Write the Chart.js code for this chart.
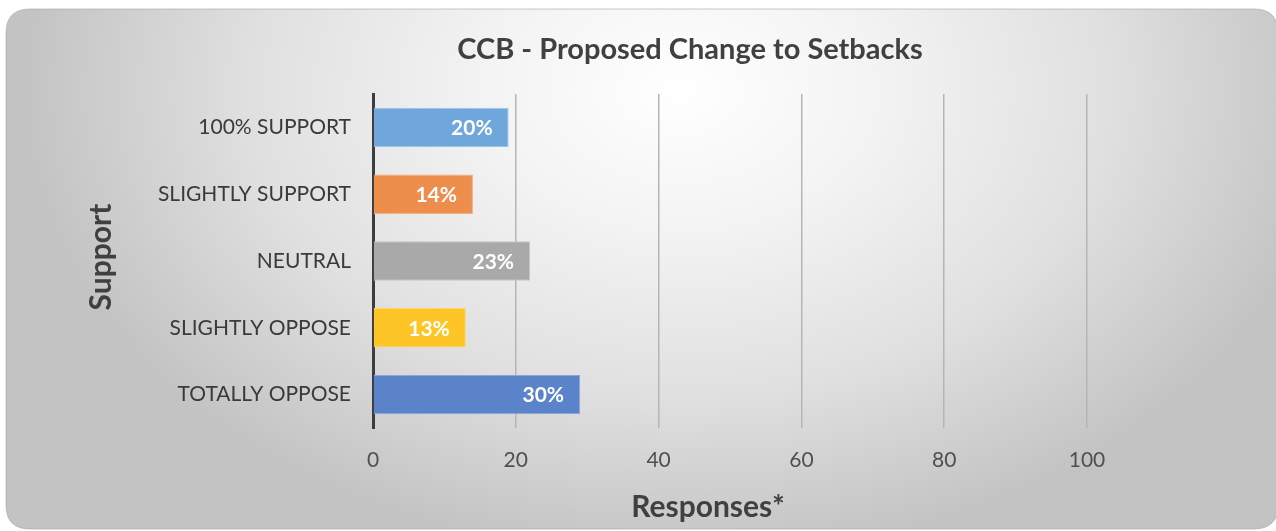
<!DOCTYPE html>
<html><head><meta charset="utf-8">
<script src="https://cdn.jsdelivr.net/npm/chart.js@4.4.1/dist/chart.umd.min.js"></script>
<style>html,body{margin:0;padding:0;background:#fff;overflow:hidden}#wrap{width:1276px;height:531px}</style>
</head><body><div id="wrap"><canvas id="c" width="1276" height="531"></canvas></div>
<script>
const categories = ['100% SUPPORT', 'SLIGHTLY SUPPORT', 'NEUTRAL', 'SLIGHTLY OPPOSE', 'TOTALLY OPPOSE'];
const responses = [19, 14, 22, 13, 29];
const percentLabels = ['20%', '14%', '23%', '13%', '30%'];
const xTickValues = [0, 20, 40, 60, 80, 100];
const barFill = ['#6fa7dc', '#ee8e4c', '#a9a9a9', '#fdc526', '#5b83c9'];
const barEdge = ['#9dc3e8', '#f3b084', '#c5c5c5', '#fed866', '#8ba7da'];
const chartTitle = 'CCB - Proposed Change to Setbacks';
const yAxisTitle = 'Support';
const xAxisTitle = 'Responses*';

const FONT = 'Lato, "Open Sans", sans-serif';

function roundRect(ctx, x, y, w, h, r) {
  ctx.beginPath();
  ctx.moveTo(x + r, y);
  ctx.lineTo(x + w - r, y);
  ctx.quadraticCurveTo(x + w, y, x + w, y + r);
  ctx.lineTo(x + w, y + h - r);
  ctx.quadraticCurveTo(x + w, y + h, x + w - r, y + h);
  ctx.lineTo(x + r, y + h);
  ctx.quadraticCurveTo(x, y + h, x, y + h - r);
  ctx.lineTo(x, y + r);
  ctx.quadraticCurveTo(x, y, x + r, y);
  ctx.closePath();
}

const cardPlugin = {
  id: 'card',
  beforeDraw(chart) {
    const ctx = chart.ctx;
    ctx.save();
    ctx.fillStyle = '#ffffff';
    ctx.fillRect(0, 0, chart.width, chart.height);
    roundRect(ctx, 6, 9, 1272, 520, 24);
    ctx.save();
    ctx.clip();
    const cx = 680, cy = 90, rx = 660, ry = 470;
    ctx.translate(cx, cy);
    ctx.scale(1, ry / rx);
    const g = ctx.createRadialGradient(0, 0, 0, 0, 0, rx);
    g.addColorStop(0, '#ffffff');
    g.addColorStop(0.3, '#f3f3f3');
    g.addColorStop(0.65, '#e0e0e0');
    g.addColorStop(1, '#c3c3c3');
    ctx.fillStyle = g;
    ctx.fillRect(-2000, -2000, 4000, 4000);
    ctx.restore();
    roundRect(ctx, 6, 9, 1272, 520, 24);
    ctx.strokeStyle = 'rgba(165,165,165,0.6)';
    ctx.lineWidth = 1;
    ctx.stroke();
    ctx.restore();
  },
  afterDraw(chart) {
    const ctx = chart.ctx;
    ctx.save();
    ctx.fillStyle = '#404040';
    ctx.textAlign = 'center';
    ctx.textBaseline = 'middle';
    ctx.font = 'bold 29px ' + FONT;
    ctx.fillText(chartTitle, 690, 50);
    ctx.font = 'bold 30px ' + FONT;
    ctx.fillText(xAxisTitle, 708, 507);
    ctx.translate(101, 257);
    ctx.rotate(-Math.PI / 2);
    ctx.fillText(yAxisTitle, 0, 0);
    ctx.restore();
  }
};

const labelPlugin = {
  id: 'barLabels',
  afterDatasetsDraw(chart) {
    const ctx = chart.ctx;
    const meta = chart.getDatasetMeta(0);
    ctx.save();
    ctx.fillStyle = '#ffffff';
    ctx.font = 'bold 21px ' + FONT;
    ctx.textAlign = 'right';
    ctx.textBaseline = 'middle';
    meta.data.forEach((bar, i) => {
      ctx.fillText(percentLabels[i], bar.x - 16, bar.y + 1);
    });
    ctx.restore();
  }
};

new Chart(document.getElementById('c'), {
  type: 'bar',
  data: {
    labels: categories,
    datasets: [{
      data: responses,
      backgroundColor: barFill,
      borderColor: barEdge,
      borderWidth: 1,
      barPercentage: 0.59,
      categoryPercentage: 1.0
    }]
  },
  options: {
    indexAxis: 'y',
    responsive: false,
    animation: false,
    devicePixelRatio: 1,
    layout: { padding: { left: 0, right: 189, top: 94, bottom: 0 } },
    plugins: { legend: { display: false }, title: { display: false }, tooltip: { enabled: false } },
    scales: {
      x: {
        min: 0, max: 100,
        afterBuildTicks(scale) { scale.ticks = xTickValues.map(v => ({ value: v })); },
        afterFit(scale) { scale.height = 103; },
        grid: { color: '#b5b5b5', lineWidth: 1.5, drawTicks: false },
        border: { display: false },
        ticks: { padding: 20, color: '#505050', font: { family: FONT, size: 21 } }
      },
      y: {
        afterFit(scale) { scale.width = 373; },
        grid: { display: false, drawTicks: false },
        border: { display: true, color: '#3d3d3d', width: 3 },
        ticks: { padding: 22, color: '#3a3a3a', font: { family: FONT, size: 21 } }
      }
    }
  },
  plugins: [cardPlugin, labelPlugin]
});
</script>
</body></html>
